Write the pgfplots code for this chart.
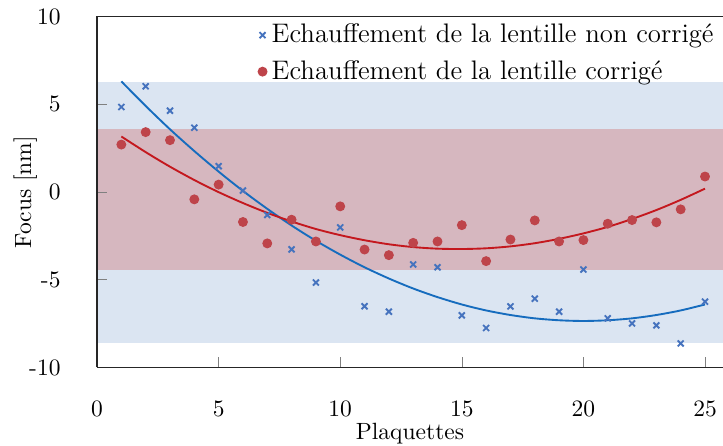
\documentclass[border=0pt]{standalone}
\usepackage{pgfplots}
\pgfplotsset{compat=1.18}
\definecolor{bandblue}{RGB}{219,229,242}
\definecolor{bandred}{RGB}{214,183,191}
\definecolor{markblue}{RGB}{70,115,190}
\definecolor{markred}{RGB}{190,68,74}
\definecolor{lineblue}{RGB}{22,108,190}
\definecolor{linered}{RGB}{196,24,30}

\begin{document}
\begin{tikzpicture}
\begin{axis}[
	scale only axis,
	width=266.4pt, height=149.4pt,
	xmin=0, xmax=25.74,
	ymin=-10, ymax=10,
	axis x line=box, axis y line=left,
	axis line style={-, line width=0.6pt, black!85},
	xtick pos=left, ytick pos=left,
	tick align=inside,
	xtick={0,5,...,25},
	ytick={-10,-5,0,5,10},
	yticklabels={-10,-5,0,5,10},
	x tick label style={yshift=-11pt},
	y tick label style={xshift=-12pt},
	xlabel={Plaquettes},
	ylabel={Focus [nm]},
	xlabel style={yshift=4pt},
	ylabel style={at={(axis description cs:0,0.5)}, anchor=center, yshift=30.6pt},
	axis on top,
	legend style={draw=none, fill=none, at={(0.997,1.0)}, anchor=north east,
		row sep=2pt, inner sep=1pt, font=\fontsize{11.4}{13}\selectfont,
		/tikz/every even column/.append style={column sep=4pt}},
	legend cell align=left,
]
	% bandes
	\addplot[fill=bandblue, draw=none, forget plot] coordinates {
		(0,-8.63) (25.74,-8.63) (25.74,6.29) (0,6.29)} -- cycle;
	\addplot[fill=bandred, draw=none, forget plot] coordinates {
		(0,-4.46) (25.74,-4.46) (25.74,3.6) (0,3.6)} -- cycle;

	\addplot[only marks, mark=x, mark size=1.8pt, markblue, line width=0.8pt] coordinates {
		(1,4.84) (2,6.02) (3,4.63) (4,3.66) (5,1.47)
		(6,0.08) (7,-1.31) (8,-3.27) (9,-5.16) (10,-2.02)
		(11,-6.51) (12,-6.82) (13,-4.13) (14,-4.29) (15,-7.03)
		(16,-7.75) (17,-6.52) (18,-6.08) (19,-6.82) (20,-4.42)
		(21,-7.20) (22,-7.49) (23,-7.60) (24,-8.63) (25,-6.25)
	}; \addlegendentry{Echauffement de la lentille non corrigé}
	\addplot[only marks, mark=*, mark size=1.9pt, markred, draw=none, fill=markred] coordinates {
		(1,2.70) (2,3.41) (3,2.95) (4,-0.42) (5,0.42)
		(6,-1.71) (7,-2.93) (8,-1.58) (9,-2.82) (10,-0.82)
		(11,-3.28) (12,-3.60) (13,-2.90) (14,-2.82) (15,-1.89)
		(16,-3.94) (17,-2.71) (18,-1.62) (19,-2.82) (20,-2.74)
		(21,-1.81) (22,-1.60) (23,-1.73) (24,-0.99) (25,0.88)
	}; \addlegendentry{Echauffement de la lentille corrigé}

	% courbes d'ajustement
	\addplot[lineblue, line width=0.8pt, smooth, forget plot] coordinates {
		(1,6.30) (2,4.90) (3,3.57) (4,2.33) (5,1.16)
		(6,0.06) (7,-0.96) (8,-1.91) (9,-2.78) (10,-3.57)
		(11,-4.29) (12,-4.93) (13,-5.50) (14,-5.99) (15,-6.41)
		(16,-6.75) (17,-7.01) (18,-7.20) (19,-7.31) (20,-7.35)
		(21,-7.31) (22,-7.20) (23,-7.01) (24,-6.75) (25,-6.41)
	};
	\addplot[linered, line width=0.8pt, smooth, forget plot] coordinates {
		(1,3.16) (2,2.27) (3,1.44) (4,0.68) (5,-0.01)
		(6,-0.63) (7,-1.19) (8,-1.68) (9,-2.11) (10,-2.46)
		(11,-2.75) (12,-2.98) (13,-3.14) (14,-3.23) (15,-3.25)
		(16,-3.21) (17,-3.10) (18,-2.92) (19,-2.67) (20,-2.36)
		(21,-1.99) (22,-1.54) (23,-1.03) (24,-0.45) (25,0.19)
	};
\end{axis}
\pgfresetboundingbox
\path ([shift={(-41.3pt,-33.2pt)}]current axis.south west) rectangle ([yshift=7pt]current axis.north east);
\end{tikzpicture}
\end{document}
